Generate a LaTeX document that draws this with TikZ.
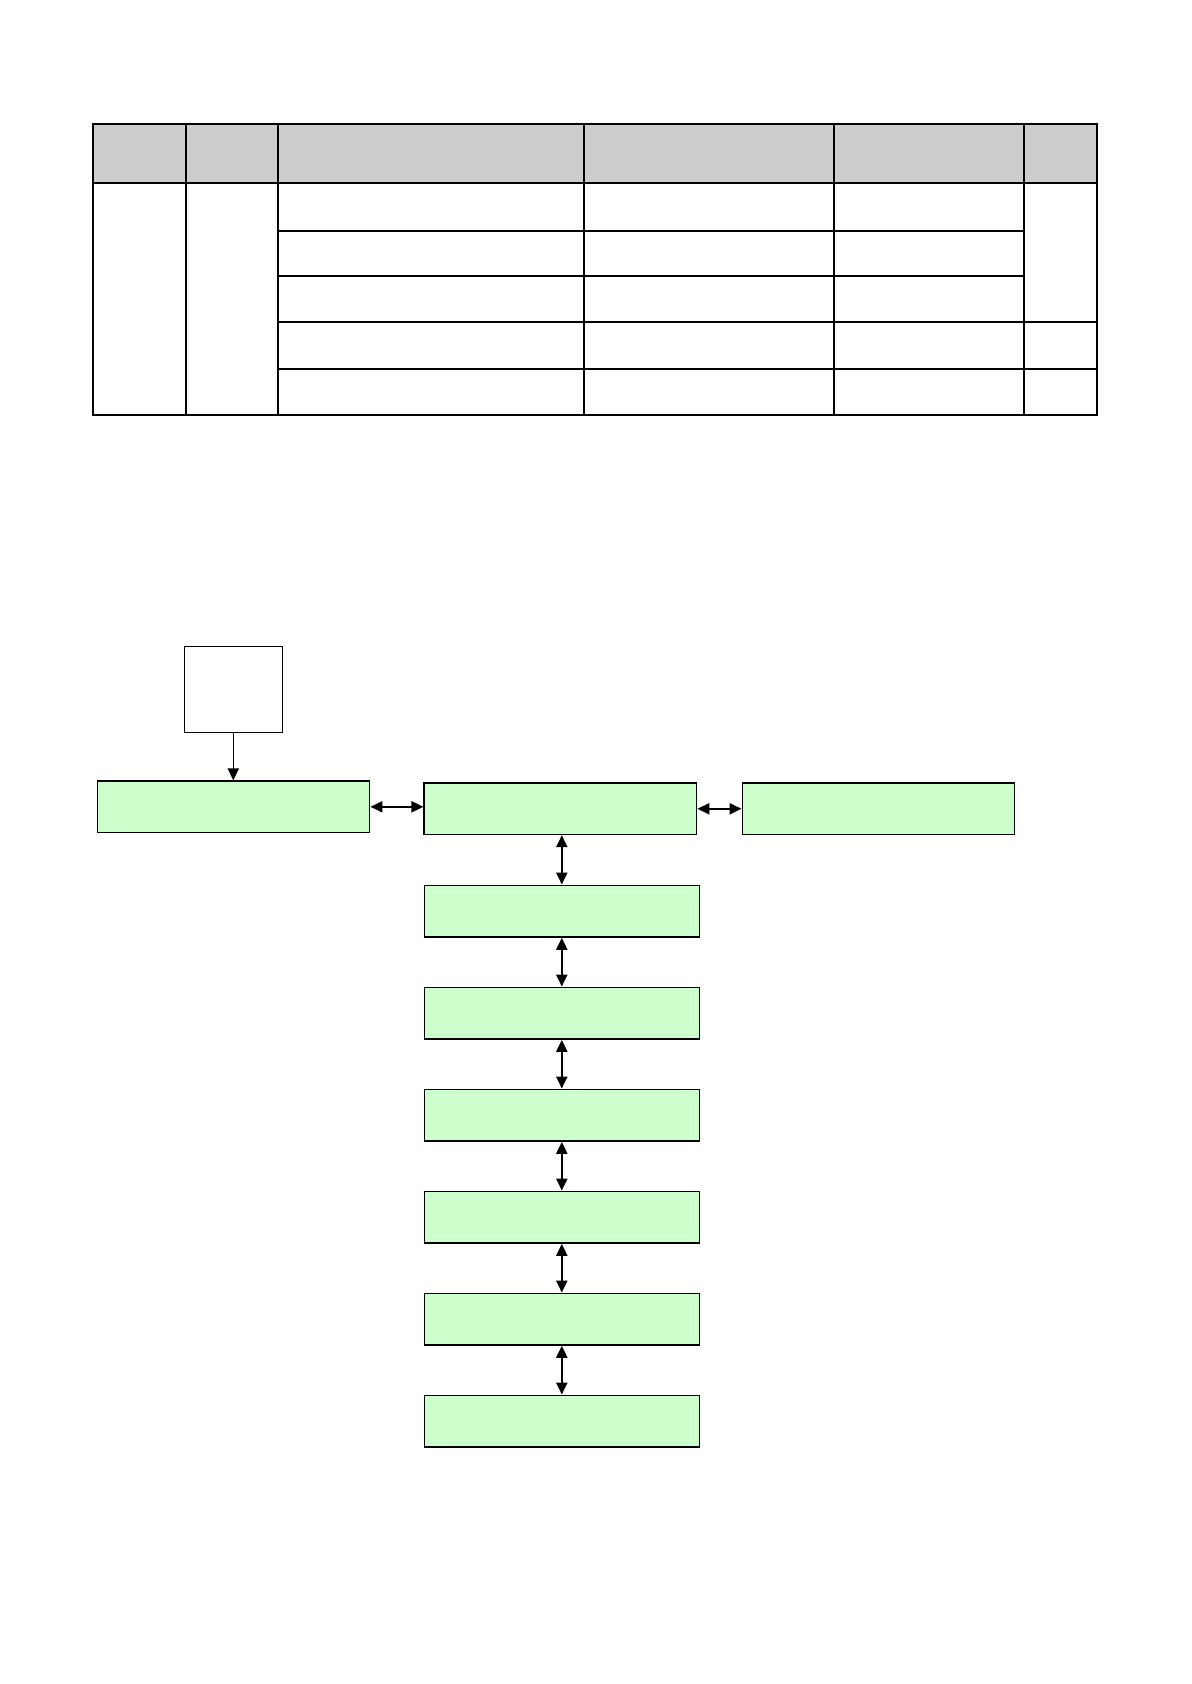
\documentclass[tikz,border=0pt]{standalone}
\usetikzlibrary{arrows.meta}
\definecolor{hdrgray}{HTML}{CCCCCC}
\definecolor{boxgreen}{HTML}{CCFFCC}
\begin{document}
\begin{tikzpicture}[x=0.5pt,y=-0.5pt,
  tline/.style={line width=1pt},
  flowbox/.style={draw, line width=0.75pt, fill=boxgreen, rectangle, inner sep=0pt, minimum width=136.2pt, minimum height=25.6pt},
  whitebox/.style={draw, line width=0.75pt, fill=white, rectangle, inner sep=0pt, minimum width=48.95pt, minimum height=42.95pt},
  link/.style={line width=1pt, {Triangle[length=6pt,width=5.5pt]}-{Triangle[length=6pt,width=5.5pt]}},
  feed/.style={line width=0.75pt, -{Triangle[length=6pt,width=5.5pt]}}]
\useasboundingbox (0,0) rectangle (1191,1684);
% ---- table ----
\fill[hdrgray] (93,124) rectangle (1097,183.5);
\draw[tline] (93,124) rectangle (1097,415);
\draw[tline] (93,183.5) -- (1097,183.5);
\foreach \xx in {186,278,583.5,833.5,1023.5} \draw[tline] (\xx,124) -- (\xx,415);
\foreach \yy in {231,276} \draw[tline] (278,\yy) -- (1023.5,\yy);
\foreach \yy in {322,369} \draw[tline] (278,\yy) -- (1097,\yy);
% ---- flowchart ----
\node[whitebox] (src) at (233.3,689.4) {};
\node[flowbox] (a) at (233.45,806.8) {};
\node[flowbox] (b) at (560.4,808.8) {};
\node[flowbox] (c) at (878.5,808.8) {};
\foreach \k in {1,...,6} {
  \node[flowbox, minimum width=137.5pt, minimum height=25.85pt] (d\k) at (561.8,{911.15+102*(\k-1)}) {};
}
\draw[feed] (src.south) -- (src.south |- a.north);
\draw[link] (a.east) -- (a.east -| b.west);
\draw[link] (b.east) -- (b.east -| c.west);
\draw[link] (d1.north |- b.south) -- (d1.north);
\foreach \i/\j in {1/2,2/3,3/4,4/5,5/6} \draw[link] (d\i.south) -- (d\j.north);
\end{tikzpicture}
\end{document}
